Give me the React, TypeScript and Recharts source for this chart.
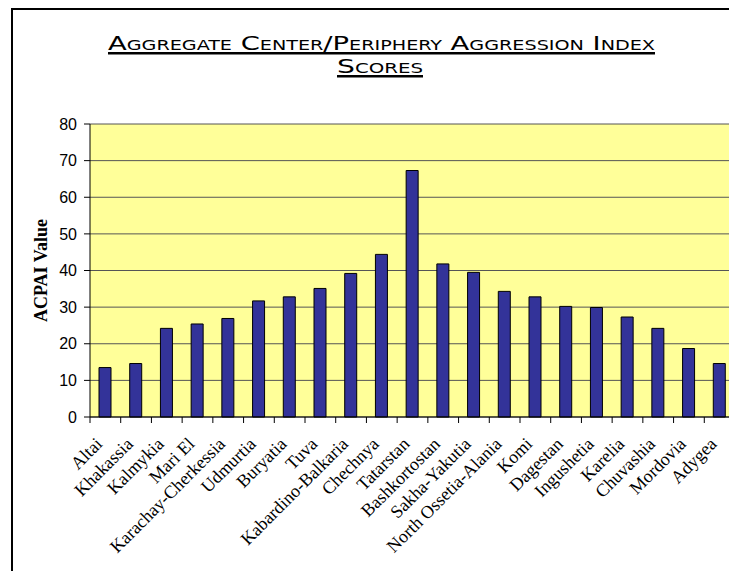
import React from 'react';
import { BarChart, Bar, XAxis, YAxis, CartesianGrid } from 'recharts';

const regions = [
  'Altai', 'Khakassia', 'Kalmykia', 'Mari El', 'Karachay-Cherkessia', 'Udmurtia',
  'Buryatia', 'Tuva', 'Kabardino-Balkaria', 'Chechnya', 'Tatarstan', 'Bashkortostan',
  'Sakha-Yakutia', 'North Ossetia-Alania', 'Komi', 'Dagestan', 'Ingushetia', 'Karelia',
  'Chuvashia', 'Mordovia', 'Adygea',
];
const acpaiValues = [
  13.5, 14.6, 24.2, 25.4, 26.9, 31.7, 32.8, 35.1, 39.2, 44.4, 67.3, 41.8,
  39.5, 34.3, 32.8, 30.2, 29.9, 27.3, 24.2, 18.7, 14.6,
];
const yTicks = [0, 10, 20, 30, 40, 50, 60, 70, 80];
const titleLine1 = 'Aggregate Center/Periphery Aggression Index';
const titleLine2 = 'Scores';
const yLabel = 'ACPAI Value';

const data = regions.map((name, i) => ({ name, value: acpaiValues[i] }));

const XTick = (props: any) => {
  const { x, y, payload, index, visibleTicksCount } = props;
  const half = payload && typeof payload.offset === 'number' ? payload.offset : 0;
  const isLast = index === (visibleTicksCount ?? regions.length) - 1;
  const ax = x - 2;
  const ay = y + 28;
  return (
    <g>
      <line x1={x - half} x2={x - half} y1={y} y2={y + 6} stroke="#000" strokeWidth={1} />
      {isLast && <line x1={x + half} x2={x + half} y1={y} y2={y + 6} stroke="#000" strokeWidth={1} />}
      <text
        x={ax}
        y={ay}
        textAnchor="end"
        transform={`rotate(-45, ${ax}, ${ay})`}
        fontFamily="'Liberation Serif', 'Times New Roman', serif"
        fontSize={18}
        fill="#000"
      >
        {payload.value}
      </text>
    </g>
  );
};

const YLabel = (props: any) => {
  const vb = props.viewBox || {};
  const cy = (vb.y ?? 0) + (vb.height ?? 0) / 2;
  const cx = 41;
  return (
    <text
      x={cx}
      y={cy}
      textAnchor="middle"
      dominantBaseline="central"
      transform={`rotate(-90, ${cx}, ${cy})`}
      fontFamily="'Liberation Serif', 'Times New Roman', serif"
      fontWeight="bold"
      fontSize={18}
      fill="#000"
    >
      {yLabel}
    </text>
  );
};

export default function App() {
  return (
    <div style={{ position: 'relative', width: 737, height: 571, margin: '-8px 0 0 -8px', background: '#fff', overflow: 'hidden' }}>
      <BarChart
        width={737}
        height={571}
        data={data}
        margin={{ top: 124, right: 2, bottom: 0, left: 0 }}
        barSize={12}
      >
        <CartesianGrid vertical={false} stroke="#555" fill="#FFFF99" fillOpacity={1} />
        <XAxis
          dataKey="name"
          interval={0}
          tickLine={false}
          tickSize={0}
          tickMargin={0}
          axisLine={{ stroke: '#000', strokeWidth: 1 }}
          tick={<XTick />}
          height={154}
        />
        <YAxis
          domain={[0, 80]}
          ticks={yTicks}
          width={90}
          tickSize={6}
          tickMargin={7}
          axisLine={{ stroke: '#000', strokeWidth: 1 }}
          tickLine={{ stroke: '#000' }}
          tick={{ fill: '#000', fontSize: 16, fontFamily: "'Liberation Sans', Arial, sans-serif" }}
          label={<YLabel />}
          interval={0}
        />
        <YAxis
          yAxisId="r"
          orientation="right"
          width={0}
          domain={[0, 80]}
          tick={false}
          tickLine={false}
          axisLine={{ stroke: '#808080', strokeWidth: 1.5 }}
        />
        <Bar dataKey="value" fill="#333399" stroke="#000" strokeWidth={1} isAnimationActive={false} />
      </BarChart>
      <svg
        width={737}
        height={571}
        style={{ position: 'absolute', left: 0, top: 0, pointerEvents: 'none' }}
      >
        <line x1={12} x2={12} y1={8} y2={571} stroke="#000" strokeWidth={2} />
        <line x1={11} x2={737} y1={9} y2={9} stroke="#000" strokeWidth={2} />
        <text
          x={381.5}
          y={50}
          textAnchor="middle"
          textLength={547}
          lengthAdjust="spacingAndGlyphs"
          fontFamily="'Liberation Sans Narrow', 'DejaVu Sans Condensed', Arial, sans-serif"
          fontSize={20}
          style={{ fontVariant: 'small-caps' }}
          fill="#000"
        >
          {titleLine1}
        </text>
        <rect x={108} y={52} width={547} height={2.5} fill="#000" />
        <text
          x={380}
          y={73}
          textAnchor="middle"
          textLength={86}
          lengthAdjust="spacingAndGlyphs"
          fontFamily="'Liberation Sans Narrow', 'DejaVu Sans Condensed', Arial, sans-serif"
          fontSize={20}
          style={{ fontVariant: 'small-caps' }}
          fill="#000"
        >
          {titleLine2}
        </text>
        <rect x={337} y={75} width={86} height={2.5} fill="#000" />
      </svg>
    </div>
  );
}
